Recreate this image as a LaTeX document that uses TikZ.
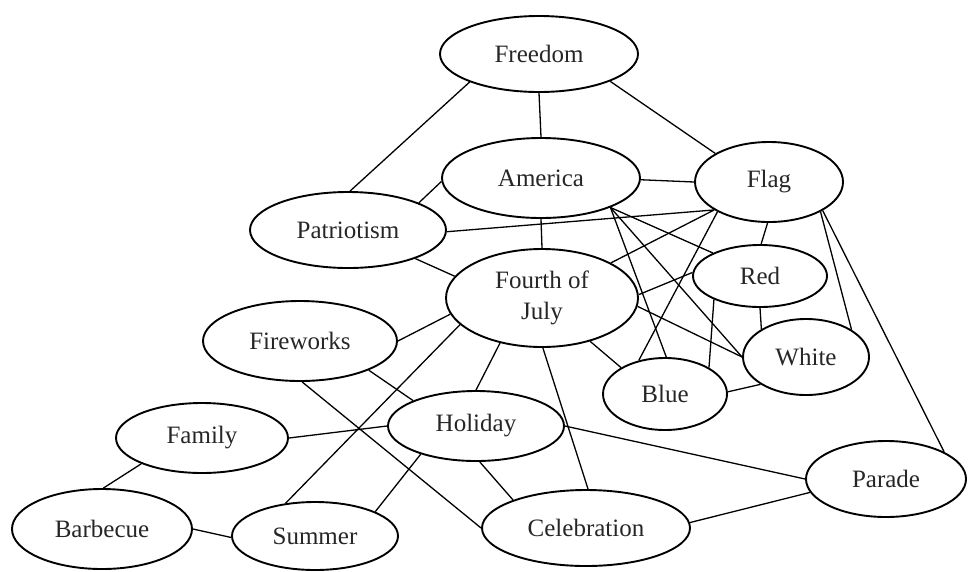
\documentclass[tikz,border=0pt]{standalone}
\usepackage{fontspec}
\setmainfont{Liberation Serif}
\usetikzlibrary{shapes.geometric}
\begin{document}
\begin{tikzpicture}[x=1pt,y=-1pt,
  concept/.style={ellipse, draw, line width=1.9pt, inner sep=0pt,
    font=\fontsize{25}{31}\selectfont, align=center, text=black!85},
  link/.style={line width=1.3pt}]
\useasboundingbox (0,0) rectangle (973,571);

% concepts
\node[concept, minimum width=198pt, minimum height=76pt] (freedom) at (539,54) {Freedom};
\node[concept, minimum width=198pt, minimum height=80pt] (america) at (541,178) {America};
\node[concept, minimum width=148pt, minimum height=80pt] (flag) at (769,182) {Flag};
\node[concept, minimum width=196pt, minimum height=76pt] (patriot) at (348,230) {Patriotism};
\node[concept, minimum width=192pt, minimum height=98pt] (july) at (542,298) {Fourth of\\July};
\node[concept, minimum width=134pt, minimum height=62pt] (red) at (760,276) {Red};
\node[concept, minimum width=126pt, minimum height=76pt] (white) at (806,357) {White};
\node[concept, minimum width=124pt, minimum height=72pt] (blue) at (665,394) {Blue};
\node[concept, minimum width=194pt, minimum height=80pt] (fireworks) at (300,341) {Fireworks};
\node[concept, minimum width=172pt, minimum height=70pt] (family) at (202,438) {Family};
\node[concept, minimum width=180pt, minimum height=80pt] (barbecue) at (102,529) {Barbecue};
\node[concept, minimum width=166pt, minimum height=68pt] (summer) at (315,536) {Summer};
\node[concept, minimum width=176pt, minimum height=70pt] (holiday) at (476,426) {Holiday};
\node[concept, minimum width=208pt, minimum height=76pt] (celebration) at (586,528) {Celebration};
\node[concept, minimum width=160pt, minimum height=76pt] (parade) at (886,479) {Parade};

% links
\draw[link] (freedom.-158) -- (patriot.87);
\draw[link] (freedom.-90) -- (america.90);
\draw[link] (freedom.-21) -- (flag.152);
\draw[link] (america.182) -- (patriot.21);
\draw[link] (america.-1) -- (flag.180);
\draw[link] (america.-90) -- (july.90);
\draw[link] (america.-23) -- (red.154);
\draw[link] (america.-23) -- (blue.88);
\draw[link] (america.-23) -- (white.180);
\draw[link] (patriot.-1) -- (flag.207);
\draw[link] (patriot.-23) -- (july.166);
\draw[link] (flag.207) -- (july.27);
\draw[link] (flag.210) -- (blue.128);
\draw[link] (flag.-92) -- (red.88);
\draw[link] (flag.-30) -- (white.31);
\draw[link] (flag.-28) -- (parade.25);
\draw[link] (july.2) -- (red.177);
\draw[link] (july.-5) -- (white.180);
\draw[link] (july.-42) -- (blue.149);
\draw[link] (red.207) -- (blue.31);
\draw[link] (red.-90) -- (white.148);
\draw[link] (blue.2) -- (white.211);
\draw[link] (july.190) -- (fireworks.0);
\draw[link] (july.198) -- (summer.132);
\draw[link] (july.227) -- (holiday.90);
\draw[link] (july.-89) -- (celebration.87);
\draw[link] (fireworks.-23) -- (holiday.158);
\draw[link] (fireworks.-87) -- (celebration.180);
\draw[link] (family.0) -- (holiday.180);
\draw[link] (family.203) -- (barbecue.88);
\draw[link] (barbecue.0) -- (summer.181);
\draw[link] (summer.22) -- (holiday.207);
\draw[link] (holiday.-84) -- (celebration.159);
\draw[link] (holiday.0) -- (parade.180);
\draw[link] (celebration.3) -- (parade.190);
\end{tikzpicture}
\end{document}
